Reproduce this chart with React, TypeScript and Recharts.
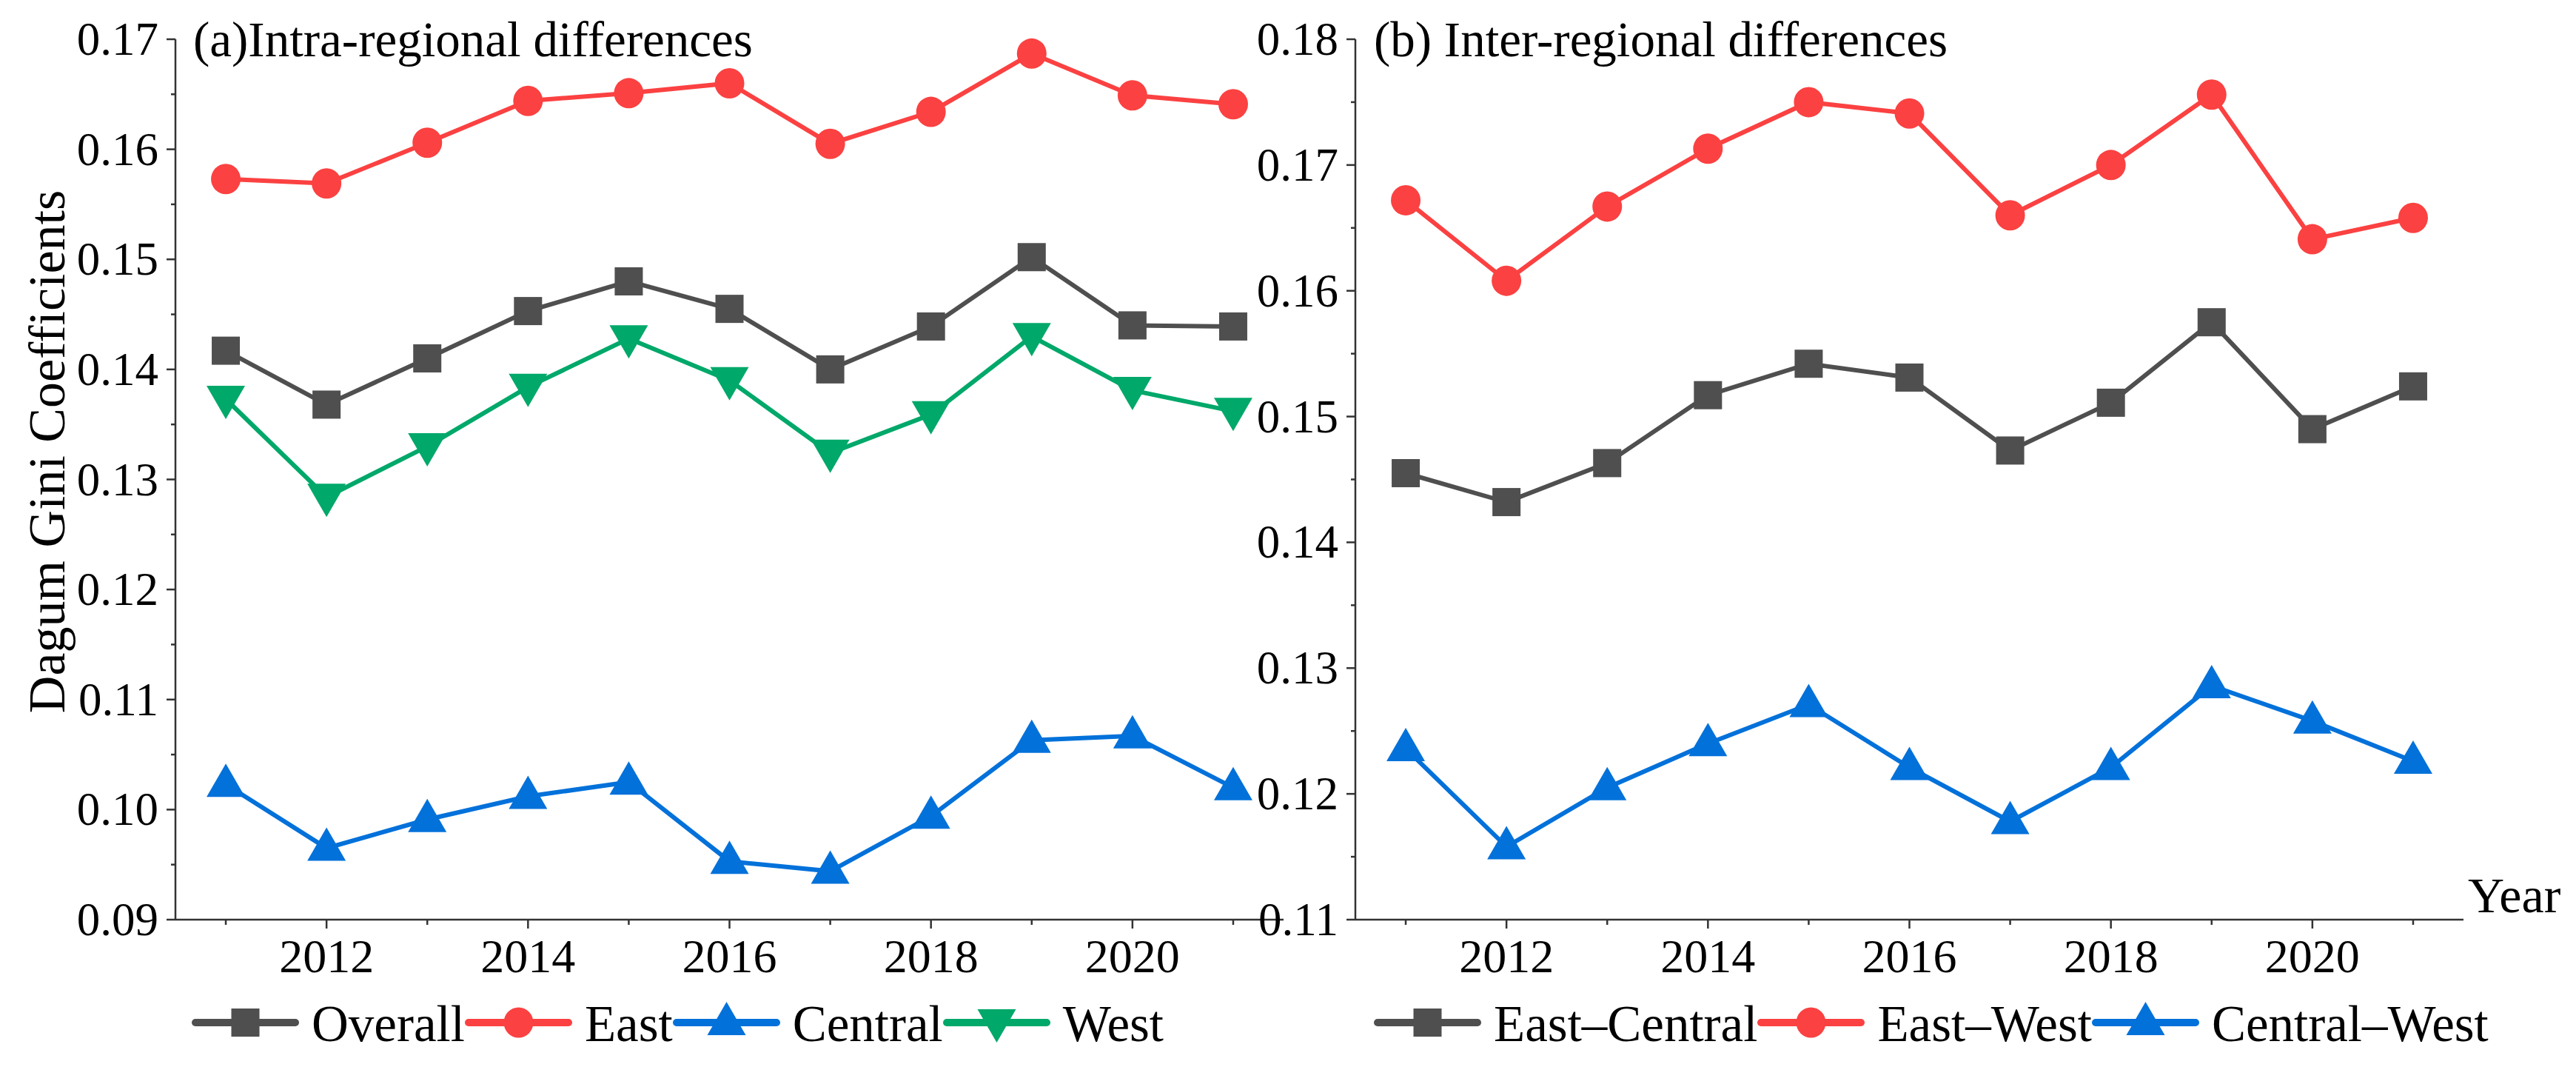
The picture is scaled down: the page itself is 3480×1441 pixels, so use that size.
import React from 'react';
import { LineChart, Line, XAxis, YAxis, Legend } from 'recharts';

const years = [2011, 2012, 2013, 2014, 2015, 2016, 2017, 2018, 2019, 2020, 2021];
const overall = [0.1417, 0.1368, 0.141, 0.1453, 0.148, 0.1455, 0.14, 0.1439, 0.1502, 0.144, 0.1439];
const east = [0.1573, 0.1569, 0.1606, 0.1644, 0.1651, 0.166, 0.1605, 0.1634, 0.1687, 0.1649, 0.1641];
const central = [0.1023, 0.0965, 0.0991, 0.1012, 0.1025, 0.0953, 0.0944, 0.0994, 0.1063, 0.1067, 0.102];
const west = [0.1373, 0.1284, 0.133, 0.1384, 0.1428, 0.139, 0.1324, 0.1359, 0.143, 0.1381, 0.1362];
const eastCentral = [0.1455, 0.1432, 0.1463, 0.1517, 0.1542, 0.1531, 0.1473, 0.1511, 0.1575, 0.149, 0.1524];
const eastWest = [0.1672, 0.1608, 0.1667, 0.1713, 0.175, 0.1741, 0.166, 0.17, 0.1756, 0.1641, 0.1658];
const centralWest = [0.1236, 0.1158, 0.1205, 0.124, 0.1271, 0.1221, 0.1178, 0.1221, 0.1286, 0.1258, 0.1226];

const leftYMajor = [0.09, 0.1, 0.11, 0.12, 0.13, 0.14, 0.15, 0.16, 0.17];
const leftYMinor = [0.095, 0.105, 0.115, 0.125, 0.135, 0.145, 0.155, 0.165];
const rightYMajor = [0.11, 0.12, 0.13, 0.14, 0.15, 0.16, 0.17, 0.18];
const rightYMinor = [0.115, 0.125, 0.135, 0.145, 0.155, 0.165, 0.175];
const xLabelYears = [2012, 2014, 2016, 2018, 2020];

const FONT = '"Liberation Serif", "Times New Roman", Times, serif';
const GRAY = '#4f4f4f';
const RED = '#fb4141';
const BLUE = '#0371da';
const GREEN = '#00a86a';
const AXIS = '#333333';

const leftData = years.map((y, i) => ({ year: y, overall: overall[i], east: east[i], central: central[i], west: west[i] }));
const rightData = years.map((y, i) => ({ year: y, ec: eastCentral[i], ew: eastWest[i], cw: centralWest[i] }));

type Shape = 'square' | 'circle' | 'up' | 'down';
type Item = { name: string; color: string; shape: Shape };

const leftItems: Item[] = [
  { name: 'Overall', color: GRAY, shape: 'square' },
  { name: 'East', color: RED, shape: 'circle' },
  { name: 'Central', color: BLUE, shape: 'up' },
  { name: 'West', color: GREEN, shape: 'down' },
];
const rightItems: Item[] = [
  { name: 'East\u2013Central', color: GRAY, shape: 'square' },
  { name: 'East\u2013West', color: RED, shape: 'circle' },
  { name: 'Central\u2013West', color: BLUE, shape: 'up' },
];

function Marker({ cx, cy, shape, color }: { cx: number; cy: number; shape: Shape; color: string }) {
  if (shape === 'square') return <rect x={cx - 19} y={cy - 19} width={38} height={38} fill={color} />;
  if (shape === 'circle') return <ellipse cx={cx} cy={cy} rx={20} ry={20.5} fill={color} />;
  if (shape === 'up')
    return <polygon points={`${cx},${cy - 28} ${cx - 26},${cy + 17} ${cx + 26},${cy + 17}`} fill={color} />;
  return <polygon points={`${cx - 26},${cy - 18} ${cx + 26},${cy - 18} ${cx},${cy + 27}`} fill={color} />;
}

const makeDot = (shape: Shape, color: string, name: string) => (props: any) => {
  const { cx, cy, index } = props;
  if (cx == null || cy == null) return <g key={`${name}-${index}`} />;
  return (
    <g key={`${name}-${index}`}>
      <Marker cx={cx} cy={cy} shape={shape} color={color} />
    </g>
  );
};

const XTick = (props: any) => {
  const { x, y, payload } = props;
  const v = payload.value;
  const major = xLabelYears.includes(v);
  return (
    <g>
      <line x1={x} y1={y} x2={x} y2={y + (major ? 12 : 7)} stroke={AXIS} strokeWidth={2.5} />
      {major && (
        <text x={x} y={y + 71} textAnchor="middle" fontSize={64} style={{ fontFamily: FONT }} fill="#000">
          {v}
        </text>
      )}
    </g>
  );
};

const makeYTick = (majors: number[]) => (props: any) => {
  const { x, y, payload } = props;
  const v = payload.value;
  const major = majors.some((m) => Math.abs(m - v) < 1e-9);
  return (
    <g>
      <line x1={x - (major ? 12 : 6)} y1={y} x2={x} y2={y} stroke={AXIS} strokeWidth={2.5} />
      {major && (
        <text x={x - 23} y={y + 21} textAnchor="end" fontSize={63} style={{ fontFamily: FONT }} fill="#000">
          {v.toFixed(2)}
        </text>
      )}
    </g>
  );
};

const makeLegend = (items: Item[]) => () => (
  <div style={{ display: 'flex', flexDirection: 'row', alignItems: 'center', height: 80, fontFamily: FONT }}>
    {items.map((p) => (
      <div key={p.name} style={{ display: 'flex', alignItems: 'center', height: 80 }}>
        <svg width={145} height={80} style={{ display: 'block' }}>
          <line x1={5} y1={38} x2={140} y2={38} stroke={p.color} strokeWidth={10} strokeLinecap="round" />
          <Marker cx={72.5} cy={38} shape={p.shape} color={p.color} />
        </svg>
        <span
          style={{ fontFamily: FONT, fontSize: 69, lineHeight: '80px', marginLeft: 17, color: '#000', whiteSpace: 'nowrap' }}
        >
          {p.name}
        </span>
      </div>
    ))}
  </div>
);

export default function App() {
  const leftTicks = [...leftYMajor, ...leftYMinor].sort((a, b) => a - b);
  const rightTicks = [...rightYMajor, ...rightYMinor].sort((a, b) => a - b);
  return (
    <div style={{ position: 'relative', width: 3480, height: 1441, background: '#fff', fontFamily: FONT, overflow: 'hidden' }}>
      <style>{`body{margin:0;} svg.recharts-surface{overflow:visible;}`}</style>
      <div style={{ position: 'absolute', left: 0, top: 0 }}>
        <LineChart width={1760} height={1441} data={leftData} margin={{ top: 53, right: 26, bottom: 18, left: 0 }}>
          <XAxis
            dataKey="year"
            type="number"
            domain={[2010.5, 2021.5]}
            ticks={years}
            interval={0}
            tickSize={0}
            tickMargin={0}
            tickLine={false}
            height={101}
            axisLine={{ stroke: AXIS, strokeWidth: 2.5 }}
            tick={<XTick />}
          />
          <YAxis
            type="number"
            domain={[0.09, 0.17]}
            ticks={leftTicks}
            interval={0}
            tickSize={0}
            tickMargin={0}
            tickLine={false}
            width={237}
            axisLine={{ stroke: AXIS, strokeWidth: 2.5 }}
            tick={makeYTick(leftYMajor)}
          />
          <Legend verticalAlign="bottom" align="left" content={makeLegend(leftItems)} wrapperStyle={{ left: 259 }} />
          <Line name="Overall" dataKey="overall" stroke={GRAY} strokeWidth={6} dot={makeDot('square', GRAY, 'ov')} activeDot={false} isAnimationActive={false} />
          <Line name="East" dataKey="east" stroke={RED} strokeWidth={6} dot={makeDot('circle', RED, 'ea')} activeDot={false} isAnimationActive={false} />
          <Line name="Central" dataKey="central" stroke={BLUE} strokeWidth={6} dot={makeDot('up', BLUE, 'ce')} activeDot={false} isAnimationActive={false} />
          <Line name="West" dataKey="west" stroke={GREEN} strokeWidth={6} dot={makeDot('down', GREEN, 'we')} activeDot={false} isAnimationActive={false} />
        </LineChart>
      </div>
      <div style={{ position: 'absolute', left: 1650, top: 0 }}>
        <LineChart width={1830} height={1441} data={rightData} margin={{ top: 53, right: 152, bottom: 18, left: 0 }}>
          <XAxis
            dataKey="year"
            type="number"
            domain={[2010.5, 2021.5]}
            ticks={years}
            interval={0}
            tickSize={0}
            tickMargin={0}
            tickLine={false}
            height={101}
            axisLine={{ stroke: AXIS, strokeWidth: 2.5 }}
            tick={<XTick />}
          />
          <YAxis
            type="number"
            domain={[0.11, 0.18]}
            ticks={rightTicks}
            interval={0}
            tickSize={0}
            tickMargin={0}
            tickLine={false}
            width={181}
            axisLine={{ stroke: AXIS, strokeWidth: 2.5 }}
            tick={makeYTick(rightYMajor)}
          />
          <Legend verticalAlign="bottom" align="left" content={makeLegend(rightItems)} wrapperStyle={{ left: 206 }} />
          <Line name={'East\u2013Central'} dataKey="ec" stroke={GRAY} strokeWidth={6} dot={makeDot('square', GRAY, 'ec')} activeDot={false} isAnimationActive={false} />
          <Line name={'East\u2013West'} dataKey="ew" stroke={RED} strokeWidth={6} dot={makeDot('circle', RED, 'ew')} activeDot={false} isAnimationActive={false} />
          <Line name={'Central\u2013West'} dataKey="cw" stroke={BLUE} strokeWidth={6} dot={makeDot('up', BLUE, 'cw')} activeDot={false} isAnimationActive={false} />
        </LineChart>
      </div>
      <svg width={3480} height={1441} style={{ position: 'absolute', left: 0, top: 0, pointerEvents: 'none' }}>
        <text x={261} y={76} fontSize={67} style={{ fontFamily: FONT }} fill="#000">(a)Intra-regional differences</text>
        <text x={1856} y={76} fontSize={67} style={{ fontFamily: FONT }} fill="#000">(b) Inter-regional differences</text>
        <text x={3334} y={1232} fontSize={68} style={{ fontFamily: FONT }} fill="#000">Year</text>
        <text
          transform="translate(63,610) rotate(-90)"
          textAnchor="middle"
          dominantBaseline="central"
          fontSize={70}
          style={{ fontFamily: FONT }}
          fill="#000"
        >
          Dagum Gini Coefficients
        </text>
      </svg>
    </div>
  );
}
